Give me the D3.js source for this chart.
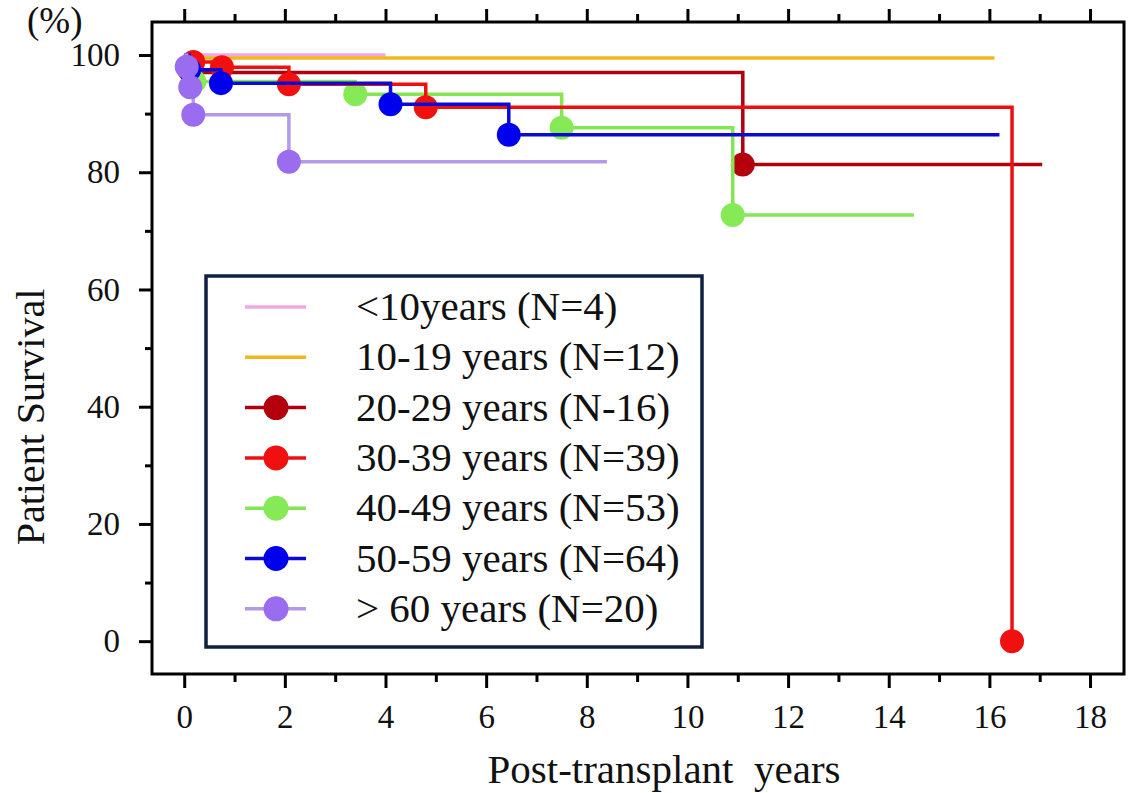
<!DOCTYPE html>
<html>
<head>
<meta charset="utf-8">
<script src="https://cdn.jsdelivr.net/npm/d3@7"></script>
<style>
  body { margin: 0; background: #fff; }
  svg text { font-family: "Liberation Serif", "Times New Roman", serif; fill: #111; }
</style>
</head>
<body>
<script>
// survival data (years, %)
var groupLabels = ["<10years (N=4)", "10-19 years (N=12)", "20-29 years (N-16)", "30-39 years (N=39)",
                   "40-49 years (N=53)", "50-59 years (N=64)", "> 60 years (N=20)"];

var lt10Time = [0],                          lt10Surv = [100];
var y10Time  = [0],                          y10Surv  = [99.5];
var y20Time  = [0, 0.15, 11.1],              y20Surv  = [100, 97.0, 81.3];
var y30Time  = [0, 0.18, 0.75, 2.08, 4.8, 16.45], y30Surv = [100, 98.8, 97.9, 95.0, 91.1, 0];
var y40Time  = [0, 0.2, 3.4, 7.5, 10.9],     y40Surv  = [100, 95.5, 93.3, 87.6, 72.7];
var y50Time  = [0, 0.1, 0.73, 4.1, 6.45],    y50Surv  = [100, 97.5, 95.2, 91.6, 86.4];
var y60Time  = [0, 0.05, 0.12, 0.18, 2.08],  y60Surv  = [100, 98.0, 94.5, 89.8, 81.8];
var endTimes = [4.0, 16.1, 17.05, 16.45, 14.5, 16.2, 8.4];

var xTicks = [0, 2, 4, 6, 8, 10, 12, 14, 16, 18];
var yTicks = [0, 20, 40, 60, 80, 100];

// styles
var lineColors   = ["#f2a6e6", "#f0b81e", "#b0000e", "#ee1010", "#84e652", "#0a0ad2", "#b29ae8"];
var markerColors = [null, null, "#b4000c", "#f01010", "#86ea56", "#0000ee", "#9a6cf0"];
var drawOrder = [0, 1, 2, 4, 3, 5, 6];

var times = [lt10Time, y10Time, y20Time, y30Time, y40Time, y50Time, y60Time];
var survs = [lt10Surv, y10Surv, y20Surv, y30Surv, y40Surv, y50Surv, y60Surv];

var series = groupLabels.map(function(name, i) {
  var pts = times[i].map(function(t, j) { return {t: t, s: survs[i][j]}; });
  return {name: name, points: pts, end: endTimes[i], line: lineColors[i], marker: markerColors[i]};
});

var W = 1128, H = 793;
var plotL = 152, plotR = 1124, plotT = 22, plotB = 674;

var svg = d3.select("body").append("svg").attr("width", W).attr("height", H);

var x = d3.scaleLinear().domain([-0.64, 18.675]).range([plotL, plotR]);
var y = d3.scaleLinear().domain([-5.6, 105.63]).range([plotB, plotT]);

// axes
function styleAxis(g) {
  g.select(".domain").remove();
  g.selectAll("line").attr("stroke", "#000").attr("stroke-width", 3);
  g.selectAll("text").attr("font-size", "33px").attr("fill", "#111");
}

svg.append("g").attr("transform", "translate(0," + plotB + ")")
  .call(d3.axisBottom(x).tickValues(xTicks).tickSize(14).tickPadding(17).tickFormat(d3.format("d")))
  .call(styleAxis);
svg.append("g").attr("transform", "translate(0," + plotB + ")")
  .call(d3.axisBottom(x).tickValues(d3.range(1, 19, 2)).tickSize(8).tickFormat(""))
  .call(styleAxis);
svg.append("g").attr("transform", "translate(0," + plotT + ")")
  .call(d3.axisTop(x).tickValues(xTicks).tickSize(13).tickFormat(""))
  .call(styleAxis);
svg.append("g").attr("transform", "translate(0," + plotT + ")")
  .call(d3.axisTop(x).tickValues(d3.range(1, 19, 2)).tickSize(8).tickFormat(""))
  .call(styleAxis);
svg.append("g").attr("transform", "translate(" + plotL + ",0)")
  .call(d3.axisLeft(y).tickValues(yTicks).tickSize(13).tickPadding(19))
  .call(styleAxis);
svg.append("g").attr("transform", "translate(" + plotL + ",0)")
  .call(d3.axisLeft(y).tickValues(d3.range(10, 100, 20)).tickSize(7).tickFormat(""))
  .call(styleAxis);

svg.append("rect")
  .attr("x", plotL).attr("y", plotT).attr("width", plotR - plotL).attr("height", plotB - plotT)
  .attr("fill", "none").attr("stroke", "#000").attr("stroke-width", 3);

// curves
var line = d3.line()
  .x(function(d) { return x(d.t); })
  .y(function(d) { return y(d.s); })
  .curve(d3.curveStepAfter);

drawOrder.forEach(function(i) {
  var s = series[i];
  var pts = s.points.concat([{t: s.end, s: s.points[s.points.length - 1].s}]);
  svg.append("path").datum(pts)
    .attr("d", line)
    .attr("fill", "none")
    .attr("stroke", s.line)
    .attr("stroke-width", 3.5);
  if (s.marker) {
    svg.selectAll(null).data(s.points.slice(1)).enter()
      .append("circle")
      .attr("cx", function(d) { return x(d.t); })
      .attr("cy", function(d) { return y(d.s); })
      .attr("r", 12)
      .attr("fill", s.marker);
  }
});

// legend
var lg = svg.append("g");
lg.append("rect")
  .attr("x", 206).attr("y", 276).attr("width", 496).attr("height", 371)
  .attr("fill", "#fff").attr("stroke", "#10213f").attr("stroke-width", 3.5);

series.forEach(function(s, i) {
  var cy = 307 + i * 50.3;
  lg.append("line")
    .attr("x1", 245).attr("x2", 306).attr("y1", cy).attr("y2", cy)
    .attr("stroke", s.line).attr("stroke-width", 3.5);
  if (s.marker) {
    lg.append("circle").attr("cx", 276).attr("cy", cy).attr("r", 12.5).attr("fill", s.marker);
  }
  lg.append("text")
    .attr("x", 356).attr("y", cy + 13)
    .attr("font-size", "41px")
    .text(s.name);
});

// titles
svg.append("text")
  .attr("x", 664).attr("y", 783)
  .attr("text-anchor", "middle").attr("font-size", "41px")
  .style("white-space", "pre")
  .text("Post-transplant  years");

svg.append("text")
  .attr("transform", "translate(44,417) rotate(-90)")
  .attr("text-anchor", "middle").attr("font-size", "40px")
  .text("Patient Survival");

svg.append("text")
  .attr("x", 27).attr("y", 33)
  .attr("font-size", "37px")
  .text("(%)");
</script>
</body>
</html>
